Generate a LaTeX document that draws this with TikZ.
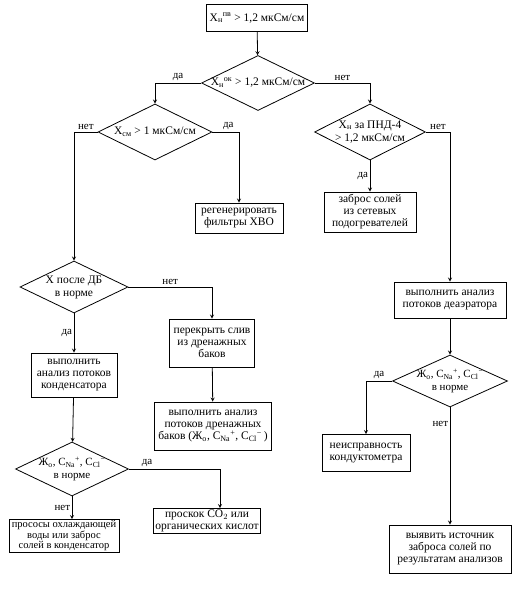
\documentclass[tikz,border=0pt]{standalone}
\usepackage{fontspec}
\setmainfont{Liberation Serif}
\usepackage{amsmath}
\usetikzlibrary{shapes.geometric,calc}

% text inside a diamond: no size of its own
\newcommand{\dtxt}[1]{\makebox[0pt]{\smash{\raisebox{-3pt}{\begin{tabular}{@{}c@{}}#1\end{tabular}}}}}
% ion concentrations
\newcommand{\cna}{C$_\text{Na}$\textsuperscript{+}}
\newcommand{\ccl}{C$_\text{Cl}$\textsuperscript{−}}

\begin{document}
\begin{tikzpicture}[x=1pt,y=-1pt,>=stealth,
  box/.style={draw,rectangle,align=center,inner sep=1pt,line width=0.8pt,font=\fontsize{11.5}{12}\selectfont},
  dia/.style={draw,diamond,inner sep=0pt,line width=0.8pt,font=\fontsize{11.5}{13}\selectfont},
  lab/.style={font=\fontsize{11}{11}\selectfont,inner sep=1.5pt},
  link/.style={->,line width=0.8pt}]
\useasboundingbox (0,0) rectangle (521,593);

% Start
\node[box,minimum width=101,minimum height=27] (start) at (257,18) {Х$_\text{н}{}^\text{пв}$ > 1,2 мкСм/см};

% Decisions
\node[dia,minimum width=113,minimum height=55] (xok) at (258,83) {\dtxt{Х$_\text{н}{}^\text{ок}$ > 1,2 мкСм/см}};
\node[dia,minimum width=114,minimum height=56] (xsm) at (155,132) {\dtxt{Х$_\text{см}$ > 1 мкСм/см}};
\node[dia,minimum width=111,minimum height=56] (xpnd) at (370,132) {\dtxt{Х$_\text{н}$ за ПНД-4\\> 1,2 мкСм/см}};
\node[dia,minimum width=108,minimum height=52] (xdb) at (74,287) {\dtxt{Х после ДБ\\в норме}};
\node[dia,minimum width=113,minimum height=54,font=\fontsize{11}{13}\selectfont] (normk) at (72,469) {\dtxt{Ж$_\text{о}$, \cna, \ccl\\в норме}};
\node[dia,minimum width=115,minimum height=52,font=\fontsize{11}{13}\selectfont] (normd) at (450,381) {\dtxt{Ж$_\text{о}$, \cna, \ccl\\в норме}};

% Actions
\node[box,minimum width=88,minimum height=30] (regen) at (239,218) {регенерировать\\фильтры ХВО};
\node[box,minimum width=92,minimum height=40] (sets) at (370,212) {заброс солей\\из сетевых\\подогревателей};
\node[box,minimum width=85,minimum height=48] (sliv) at (212,343) {перекрыть слив\\из дренажных\\баков};
\node[box,minimum width=86,minimum height=44] (kond) at (74,375) {выполнить\\анализ потоков\\конденсатора};
\node[box,minimum width=117,minimum height=48] (dren) at (213,426) {выполнить анализ\\потоков дренажных\\баков (Ж$_\text{о}$, \cna, \ccl\,)};
\node[box,minimum width=107,minimum height=25] (co2) at (207,521) {проскок CO$_2$ или\\органических кислот};
\node[box,minimum width=110,minimum height=33,font=\fontsize{10.5}{10.5}\selectfont] (prosos) at (64,536) {прососы охлаждающей\\воды или заброс\\солей в конденсатор};
\node[box,minimum width=112,minimum height=36] (deaer) at (450,300) {выполнить анализ\\потоков деаэратора};
\node[box,minimum width=88,minimum height=37] (neispr) at (366,453) {неисправность\\кондуктометра};
\node[box,minimum width=122,minimum height=48] (ist) at (450,549) {выявить источник\\заброса солей по\\результатам анализов};

% Connectors
\draw[link] (start) -- (xok);
\draw[link] (xok.west) -| node[lab,pos=.25,above] (l1) {да} (xsm.north);
\draw[link] (xok.east) -| node[lab,pos=.25,above] (l2) {нет} (xpnd.north);
\draw[link] (xsm.east) -| node[lab,pos=.3,above] (l3) {да} (regen.north);
\draw[link] (xsm.west) -| node[lab,pos=.25,above] (l4) {нет} (xdb.north);
\draw[link] (xpnd.south) -- node[lab,left] (l5) {да} (sets.north);
\draw[link] (xpnd.east) -| node[lab,pos=.25,above] (l6) {нет} (deaer.north);
\draw[link] (xdb.east) -| node[lab,pos=.25,above] (l7) {нет} (sliv.north);
\draw[link] (xdb.south) -- node[lab,left] (l8) {да} (kond.north);
\draw[link] (sliv) -- (dren);
\draw[link] (kond) -- (normk);
\draw[link] (normk.east) -| node[lab,pos=.1,above] (l9) {да} ($(co2.north)+(13,0)$);
\draw[link] (normk.south) -- node[lab,left] (l10) {нет} (normk.south |- prosos.north);
\draw[link] (deaer) -- (normd);
\draw[link] (normd.west) -| node[lab,pos=.25,above] (l11) {да} (neispr.north);
\draw[link] (normd.south) -- node[lab,pos=.14,left] (l12) {нет} (ist.north);
\end{tikzpicture}
\end{document}
